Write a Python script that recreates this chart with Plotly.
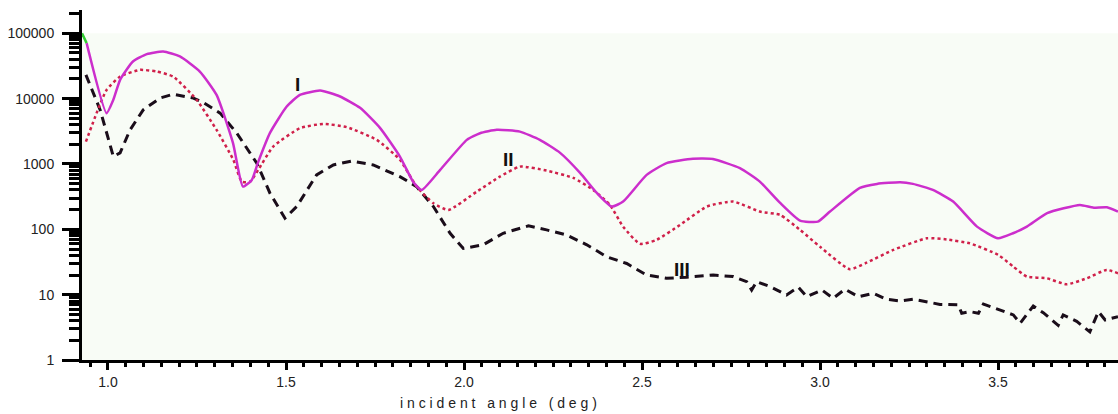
import math
import plotly.graph_objects as go

# Reflectivity curves vs incident angle (deg), three samples I, II, III
angle_I = [0.940, 0.996, 1.015, 1.034, 1.070, 1.109, 1.155, 1.202, 1.258, 1.305, 1.351, 1.379,
           1.404, 1.421, 1.455, 1.502, 1.539, 1.596, 1.652, 1.708, 1.764, 1.820, 1.857, 1.881,
           1.933, 2.008, 2.045, 2.092, 2.157, 2.213, 2.270, 2.326, 2.373, 2.415, 2.447, 2.513,
           2.569, 2.643, 2.699, 2.775, 2.831, 2.888, 2.944, 2.994, 3.028, 3.112, 3.160, 3.225,
           3.261, 3.317, 3.374, 3.441, 3.500, 3.542, 3.581, 3.638, 3.730, 3.767, 3.806, 3.837]
counts_I = [70800, 6000, 9600, 19400, 37000, 48000, 52600, 44200, 26000, 11400, 2100, 451,
            571, 1040, 2990, 7570, 11400, 13300, 10800, 7230, 3570, 1300, 537, 401,
            812, 2340, 2960, 3330, 3130, 2340, 1480, 731, 361, 223, 266, 681,
            1030, 1200, 1190, 863, 537, 254, 136, 131, 187, 431, 496, 526,
            496, 401, 266, 110, 73, 87, 110, 177, 236, 215, 218, 187]

angle_II = [0.938, 0.968, 0.996, 1.034, 1.090, 1.137, 1.183, 1.249, 1.305, 1.352, 1.376, 1.399,
            1.422, 1.464, 1.539, 1.605, 1.671, 1.755, 1.820, 1.867, 1.914, 1.956, 2.036, 2.101,
            2.157, 2.232, 2.307, 2.363, 2.410, 2.447, 2.494, 2.541, 2.607, 2.682, 2.756, 2.831,
            2.888, 2.944, 3.000, 3.084, 3.131, 3.206, 3.300, 3.356, 3.421, 3.501, 3.543, 3.581,
            3.637, 3.693, 3.749, 3.805, 3.837]
counts_II = [2200, 6000, 13600, 21800, 27600, 26000, 21800, 9580, 3330, 1160, 537, 537,
             812, 1850, 3530, 4110, 3660, 2340, 1160, 451, 251, 198, 378, 641,
             912, 793, 612, 401, 236, 110, 60, 69, 117, 223, 266, 187,
             166, 98, 54, 24.5, 30.9, 48.4, 73, 70, 61, 40.5, 26.8, 18.9,
             17.8, 14.4, 17.8, 23.9, 21.3]

angle_III = [0.938, 0.978, 1.015, 1.034, 1.062, 1.099, 1.146, 1.183, 1.240, 1.268, 1.315, 1.362,
             1.418, 1.455, 1.497, 1.530, 1.586, 1.633, 1.685, 1.745, 1.820, 1.867, 1.914, 1.961,
             1.998, 2.054, 2.110, 2.181, 2.232, 2.288, 2.345, 2.401, 2.457, 2.513, 2.569, 2.626,
             2.700, 2.756, 2.794, 2.808, 2.822, 2.860, 2.906, 2.939, 2.963, 3.005, 3.037, 3.070,
             3.108, 3.150, 3.187, 3.225, 3.262, 3.295, 3.337, 3.388, 3.398, 3.421, 3.445, 3.459,
             3.501, 3.543, 3.562, 3.581, 3.599, 3.627, 3.655, 3.669, 3.683, 3.721, 3.758, 3.782,
             3.801, 3.837]
counts_III = [23100, 6730, 1300, 1480, 3330, 6730, 10200, 11700, 10200, 8710, 6000, 2960,
              1030, 357, 148, 223, 681, 968, 1110, 968, 641, 451, 223, 87,
              51, 58, 87, 113, 98, 82, 58, 38, 30, 20, 17.8, 18.5,
              20, 18.9, 15.8, 11.8, 15.8, 13.3, 9.9, 13, 9.3, 11.8, 8.8, 12.1,
              9.3, 10.5, 8.5, 8.0, 8.5, 7.8, 7.1, 7.0, 5.2, 5.5, 5.2, 7.2,
              6.0, 4.9, 3.65, 4.9, 6.7, 5.3, 3.9, 3.4, 4.9, 3.9, 2.7, 5.5,
              4.1, 4.6]

# short leading segment at the top-left corner
angle_start = [0.927, 0.940]
counts_start = [100000, 70800]

# curve labels: (text, angle, counts)
curve_labels = [("I", 1.531, 16500), ("II", 2.125, 1180), ("III", 2.612, 24)]

x_range = [0.927, 3.837]
y_range_log = [0, 5.357]
y_tickvals = [1, 10, 100, 1000, 10000, 100000]
y_ticktext = ["1", "10", "100", "1000", "10000", "100000"]
x_tickvals = [1.0, 1.5, 2.0, 2.5, 3.0, 3.5]
x_ticktext = ["1.0", "1.5", "2.0", "2.5", "3.0", "3.5"]

fig = go.Figure()

fig.add_trace(go.Scatter(x=angle_III, y=counts_III, mode="lines",
                         line=dict(color="#1a0d1a", width=3, dash="9px,6px"), name="III"))
fig.add_trace(go.Scatter(x=angle_II, y=counts_II, mode="lines",
                         line=dict(color="#d0204a", width=2.5, dash="dot",
                                   shape="spline", smoothing=0.5), name="II"))
fig.add_trace(go.Scatter(x=angle_I, y=counts_I, mode="lines",
                         line=dict(color="#cc2ecc", width=2.5,
                                   shape="spline", smoothing=0.5), name="I"))
fig.add_trace(go.Scatter(x=angle_start, y=counts_start, mode="lines",
                         line=dict(color="#33cc33", width=2.5), name="start"))

for text, xa, ya in curve_labels:
    fig.add_annotation(x=xa, y=math.log10(ya), text="<b>" + text + "</b>", showarrow=False,
                       font=dict(family="Liberation Sans", size=19, color="#111111"))

# pale plot-area fill up to the 1e5 decade
fig.add_shape(type="rect", xref="paper", yref="paper", x0=0, x1=1,
              y0=0, y1=5 / y_range_log[1], fillcolor="#f8fcf6", line_width=0, layer="below")

nb = "\u00a0"
spaced_title = nb.join("incident") + nb * 3 + nb.join("angle") + nb * 3 + nb.join("(deg)")
fig.add_annotation(xref="paper", yref="paper", x=(498 - 82) / 1036, y=-(403 - 360) / 350,
                   xanchor="center", yanchor="middle", text=spaced_title, showarrow=False,
                   font=dict(family="Liberation Sans", size=14, color="#222222"))

tick_font = dict(family="Liberation Sans", size=14, color="#222222")
fig.update_xaxes(range=x_range, showline=True, linecolor="black", linewidth=3,
                 ticks="outside", ticklen=7, tickwidth=3, tickcolor="black",
                 tickvals=x_tickvals, ticktext=x_ticktext, tickfont=tick_font,
                 showgrid=False, zeroline=False,
                 minor=dict(dtick=0.05, ticks="outside", ticklen=4, tickwidth=3,
                            tickcolor="black", showgrid=False))
fig.update_yaxes(type="log", range=y_range_log, showline=True, linecolor="black", linewidth=3,
                 ticks="outside", ticklen=17, tickwidth=3, tickcolor="black",
                 tickvals=y_tickvals, ticktext=y_ticktext, tickfont=tick_font,
                 ticklabelstandoff=5,
                 showgrid=False, zeroline=False,
                 minor=dict(dtick="D1", ticks="outside", ticklen=10, tickwidth=3,
                            tickcolor="black", showgrid=False))

fig.update_layout(width=1118, height=414, margin=dict(l=82, r=0, t=10, b=54),
                  paper_bgcolor="white", plot_bgcolor="white", showlegend=False)

fig.write_html("out.html")
